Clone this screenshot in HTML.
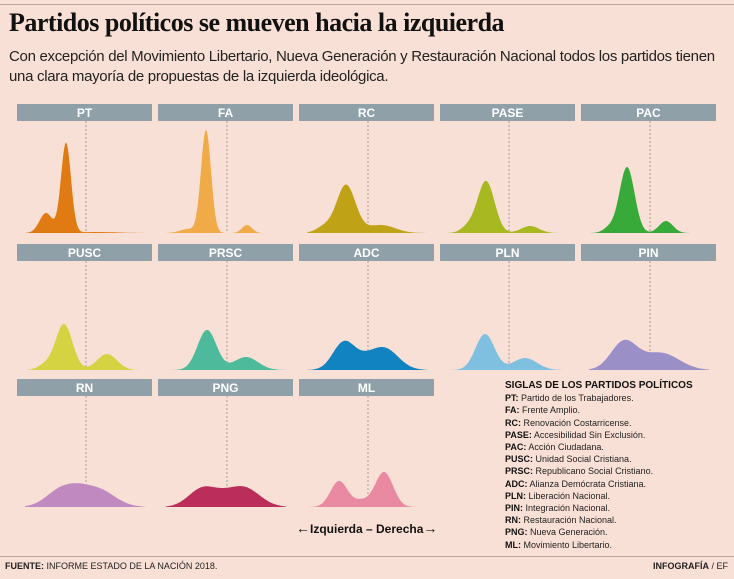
<!DOCTYPE html><html><head><meta charset="utf-8"><style>
body{margin:0;width:734px;height:579px;background:#f9e0d6;font-family:"Liberation Sans",sans-serif;overflow:hidden;position:relative}
.t{position:absolute;left:9px;top:8px;font:bold 26px "Liberation Serif",serif;color:#111;letter-spacing:-0.5px}
.s{position:absolute;left:9px;top:47px;font-size:15px;line-height:20px;color:#222;letter-spacing:-0.3px}
.leg{position:absolute;left:505px;top:379px;font-size:9px;line-height:12.2px;color:#222}
.leg b{color:#111}
.ft{position:absolute;top:561px;font-size:9px;color:#222}
</style></head><body>
<div style="position:absolute;left:0;top:4px;width:734px;height:1px;background:#b9a59c"></div>
<div class="t">Partidos políticos se mueven hacia la izquierda</div>
<div class="s">Con excepción del Movimiento Libertario, Nueva Generación y Restauración Nacional todos los partidos tienen<br>una clara mayoría de propuestas de la izquierda ideológica.</div>
<svg id="g" width="734" height="579" style="position:absolute;left:0;top:0"></svg>
<div class="leg"><b style="font-size:10px">SIGLAS DE LOS PARTIDOS POLÍTICOS</b><br>
<b>PT:</b> Partido de los Trabajadores.<br><b>FA:</b> Frente Amplio.<br><b>RC:</b> Renovación Costarricense.<br><b>PASE:</b> Accesibilidad Sin Exclusión.<br><b>PAC:</b> Acción Ciudadana.<br><b>PUSC:</b> Unidad Social Cristiana.<br><b>PRSC:</b> Republicano Social Cristiano.<br><b>ADC:</b> Alianza Demócrata Cristiana.<br><b>PLN:</b> Liberación Nacional.<br><b>PIN:</b> Integración Nacional.<br><b>RN:</b> Restauración Nacional.<br><b>PNG:</b> Nueva Generación.<br><b>ML:</b> Movimiento Libertario.</div>
<div style="position:absolute;left:296px;top:520px;font-weight:bold;font-size:12px;color:#111"><span style="font-size:14px">←</span>Izquierda – Derecha<span style="font-size:14px">→</span></div>
<div style="position:absolute;left:0;top:556px;width:734px;height:1px;background:#b9a59c"></div>
<div class="ft" style="left:5px"><b>FUENTE:</b> INFORME ESTADO DE LA NACIÓN 2018.</div>
<div class="ft" style="right:6px"><b>INFOGRAFÍA</b> / EF</div>
<script>
var P=[
["PT","#e07b14",[[49,90,5],[29,20,6.5],[80,1,20]]],
["FA","#f0aa48",[[48,103,5],[89,8,5],[30,4,8]]],
["RC","#bfa216",[[47,48,9.5],[82,8,14],[25,6,8]]],
["PASE","#a8b820",[[46,52,8.5],[90,7,9],[28,6,7]]],
["PAC","#37aa3a",[[46,66,7.5],[85,12,7],[28,5,6]]],
["PUSC","#d6d342",[[47,46,8.5],[90,16,10],[28,5,7]]],
["PRSC","#4dbb9b",[[49,40,9.5],[88,13,12]]],
["ADC","#1183c0",[[45,28,11],[85,22,14],[65,6,10]]],
["PLN","#7fc0e0",[[45,36,9.5],[85,12,12]]],
["PIN","#9b8fc8",[[43,28,13],[80,17,18]]],
["RN","#c08ac0",[[45,18,15],[80,18,17],[62,4,10]]],
["PNG","#bb2d5b",[[45,19,14],[85,20,16],[65,3,10]]],
["ML","#e98aa2",[[40,26,8.5],[85,35,9],[62,6,8]]]];
var hy=[104,244,379],by=[233,370,507],s="";
P.forEach(function(p,i){var c=i%5,r=Math.floor(i/5),x0=17+c*141;
s+='<rect x="'+x0+'" y="'+hy[r]+'" width="135" height="17" fill="#8fa0a8"/>';
s+='<text x="'+(x0+67.5)+'" y="'+(hy[r]+13)+'" text-anchor="middle" font-family="Liberation Sans" font-weight="bold" font-size="12" fill="#fff">'+p[0]+'</text>';
s+='<line x1="'+(x0+69)+'" y1="'+(hy[r]+17)+'" x2="'+(x0+69)+'" y2="'+by[r]+'" stroke="#9a8a85" stroke-width="0.8" stroke-dasharray="2,2"/>';
var d="M"+(x0+8)+","+by[r];
for(var x=8;x<=128;x+=1){var y=0;p[2].forEach(function(g){y+=g[1]*Math.exp(-Math.pow(x-g[0],2)/(2*g[2]*g[2]))});d+=" L"+(x0+x)+","+(by[r]-y).toFixed(1);}
d+=" L"+(x0+128)+","+by[r]+"Z";
s+='<path d="'+d+'" fill="'+p[1]+'"/>';});
document.getElementById("g").innerHTML=s;
</script></body></html>
